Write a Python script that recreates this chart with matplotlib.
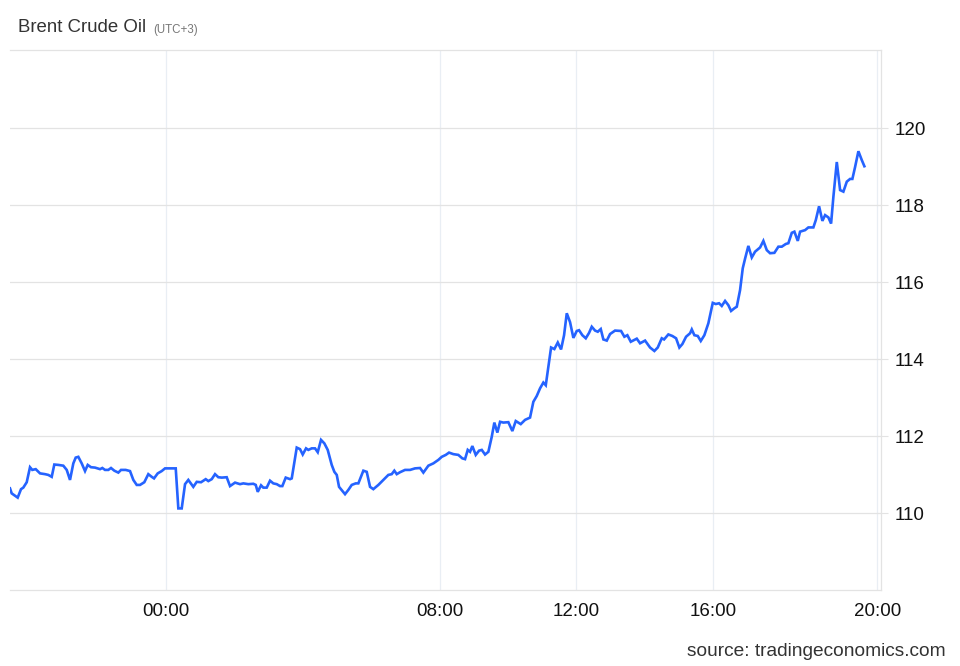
import matplotlib.pyplot as plt

plt.rcParams['font.family'] = ['Liberation Sans', 'DejaVu Sans']

# chart position in hours from 00:00 (ordinal axis, trading gaps collapsed)
pos = [-4.563, -4.513, -4.338, -4.241, -4.174, -4.074, -3.978, -3.911, -3.811, -3.685,
       -3.539, -3.443, -3.343, -3.267, -3.150, -3.004, -2.904, -2.808, -2.711, -2.641,
       -2.565, -2.466, -2.369, -2.290, -2.194, -2.077, -1.930, -1.863, -1.784, -1.688,
       -1.609, -1.512, -1.395, -1.316, -1.179, -1.053, -0.956, -0.857, -0.760, -0.635,
       -0.518, -0.418, -0.351, -0.243, -0.126, -0.029, 0.284, 0.360, 0.459, 0.556,
       0.652, 0.798, 0.898, 1.024, 1.161, 1.237, 1.337, 1.433, 1.530, 1.629,
       1.775, 1.872, 2.018, 2.164, 2.261, 2.407, 2.553, 2.624, 2.682, 2.779,
       2.846, 2.945, 3.042, 3.138, 3.238, 3.334, 3.402, 3.501, 3.627, 3.677,
       3.823, 3.919, 3.998, 4.095, 4.162, 4.261, 4.358, 4.437, 4.533, 4.630,
       4.729, 4.846, 4.923, 4.993, 5.060, 5.235, 5.332, 5.431, 5.548, 5.625,
       5.771, 5.870, 5.967, 6.063, 6.210, 6.356, 6.502, 6.601, 6.677, 6.748,
       6.844, 6.990, 7.137, 7.283, 7.429, 7.526, 7.672, 7.818, 7.964, 8.064,
       8.181, 8.277, 8.403, 8.549, 8.666, 8.745, 8.824, 8.891, 8.959, 9.058,
       9.155, 9.234, 9.330, 9.427, 9.526, 9.602, 9.690, 9.769, 9.865, 10.012,
       10.129, 10.228, 10.374, 10.500, 10.646, 10.743, 10.842, 10.939, 11.035, 11.106,
       11.261, 11.357, 11.457, 11.553, 11.641, 11.720, 11.816, 11.913, 12.012, 12.079,
       12.176, 12.276, 12.372, 12.451, 12.548, 12.627, 12.714, 12.790, 12.890, 12.986,
       13.132, 13.308, 13.405, 13.492, 13.592, 13.767, 13.864, 14.010, 14.156, 14.282,
       14.381, 14.498, 14.566, 14.691, 14.808, 14.917, 15.013, 15.101, 15.209, 15.326,
       15.376, 15.452, 15.551, 15.639, 15.744, 15.861, 15.990, 16.078, 16.174, 16.253,
       16.350, 16.446, 16.525, 16.622, 16.692, 16.788, 16.867, 16.935, 17.031, 17.131,
       17.227, 17.374, 17.470, 17.570, 17.666, 17.792, 17.909, 18.008, 18.125, 18.201,
       18.301, 18.377, 18.476, 18.543, 18.690, 18.786, 18.932, 19.003, 19.099, 19.196,
       19.275, 19.371, 19.450, 19.518, 19.617, 19.714, 19.810, 19.910, 20.006, 20.073,
       20.152, 20.249, 20.348, 20.424]

price = [110.64, 110.51, 110.40, 110.62, 110.66, 110.80, 111.19, 111.12, 111.14, 111.03,
         111.01, 110.99, 110.94, 111.26, 111.25, 111.23, 111.12, 110.86, 111.29, 111.44,
         111.46, 111.29, 111.09, 111.25, 111.19, 111.18, 111.14, 111.17, 111.12, 111.12,
         111.17, 111.10, 111.05, 111.12, 111.12, 111.09, 110.86, 110.73, 110.73, 110.80,
         111.01, 110.94, 110.90, 111.03, 111.09, 111.16, 111.16, 110.12, 110.12, 110.75,
         110.86, 110.68, 110.81, 110.80, 110.88, 110.83, 110.88, 111.01, 110.93, 110.92,
         110.93, 110.70, 110.79, 110.75, 110.77, 110.75, 110.76, 110.73, 110.55, 110.72,
         110.66, 110.66, 110.84, 110.77, 110.75, 110.70, 110.70, 110.92, 110.88, 110.90,
         111.70, 111.66, 111.52, 111.68, 111.64, 111.68, 111.68, 111.58, 111.90, 111.81,
         111.64, 111.25, 111.07, 110.99, 110.68, 110.49, 110.60, 110.73, 110.77, 110.77,
         111.10, 111.07, 110.68, 110.62, 110.73, 110.86, 110.99, 111.01, 111.10, 111.01,
         111.06, 111.12, 111.12, 111.16, 111.17, 111.05, 111.23, 111.29, 111.38, 111.46,
         111.51, 111.57, 111.53, 111.51, 111.42, 111.40, 111.64, 111.59, 111.74, 111.51,
         111.62, 111.64, 111.52, 111.59, 111.98, 112.35, 112.09, 112.37, 112.35, 112.36,
         112.13, 112.39, 112.31, 112.42, 112.48, 112.89, 113.04, 113.24, 113.39, 113.32,
         114.30, 114.26, 114.43, 114.25, 114.62, 115.19, 114.96, 114.55, 114.73, 114.75,
         114.62, 114.54, 114.68, 114.84, 114.74, 114.71, 114.78, 114.51, 114.48, 114.65,
         114.74, 114.73, 114.58, 114.62, 114.45, 114.53, 114.41, 114.48, 114.30, 114.21,
         114.30, 114.54, 114.51, 114.64, 114.60, 114.54, 114.30, 114.39, 114.58, 114.67,
         114.77, 114.62, 114.60, 114.47, 114.62, 114.93, 115.46, 115.43, 115.45, 115.38,
         115.51, 115.40, 115.25, 115.32, 115.36, 115.79, 116.36, 116.61, 116.94, 116.64,
         116.79, 116.90, 117.07, 116.83, 116.75, 116.76, 116.92, 116.92, 116.99, 117.01,
         117.28, 117.31, 117.07, 117.31, 117.35, 117.42, 117.42, 117.61, 117.97, 117.59,
         117.74, 117.68, 117.52, 118.22, 119.12, 118.39, 118.35, 118.61, 118.68, 118.68,
         118.99, 119.40, 119.17, 119.01]

xtick_pos = [0, 8, 12, 16, 20.8]
xtick_labels = ['00:00', '08:00', '12:00', '16:00', '20:00']
ytick_vals = [110, 112, 114, 116, 118, 120]

fig = plt.figure(figsize=(9.6, 6.66), dpi=100)
ax = fig.add_axes([10 / 960, 76 / 666, 871 / 960, 540 / 666])

ax.plot(pos, price, color='#2563ff', linewidth=1.9, solid_joinstyle='miter')

ax.set_xlim(-4.563, 20.91)
ax.set_ylim(108.0, 122.03)

ax.set_xticks(xtick_pos)
ax.set_xticklabels(xtick_labels)
ax.set_yticks(ytick_vals)
ax.yaxis.tick_right()

ax.tick_params(axis='x', length=0, pad=9, labelsize=13.5, labelcolor='#111111')
ax.tick_params(axis='y', length=5, width=0.8, color='#e3e3e3', pad=5,
               labelsize=13.5, labelcolor='#111111')

ax.grid(axis='y', color='#e3e3e3', linewidth=0.9)
ax.grid(axis='x', color='#e9eef4', linewidth=0.9)
ax.set_axisbelow(True)

for side in ['top', 'bottom', 'right']:
    ax.spines[side].set_color('#e3e3e3')
    ax.spines[side].set_linewidth(0.9)
ax.spines['left'].set_visible(False)

fig.text(18 / 960, 1 - 28 / 666, 'Brent Crude Oil', fontsize=13.4, color='#333333',
         va='center', ha='left')
fig.text(153 / 960, 1 - 30 / 666, '(UTC+3)', fontsize=8.3, color='#777777',
         va='center', ha='left')
fig.text(946 / 960, 1 - 651 / 666, 'source: tradingeconomics.com', fontsize=13.8,
         color='#333333', va='center', ha='right')

fig.savefig('out.png', dpi=100, facecolor='white')
